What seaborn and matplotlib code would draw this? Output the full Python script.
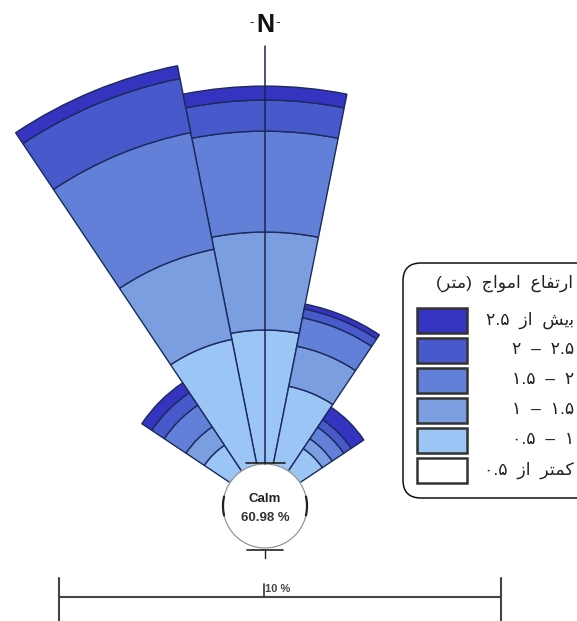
import numpy as np
import pandas as pd
import matplotlib
matplotlib.use("Agg")
import matplotlib.pyplot as plt
import seaborn as sns
from matplotlib.patches import FancyBboxPatch, Rectangle

# ---------------- data ----------------
directions = ["N", "NNE", "NE", "ENE", "E", "ESE", "SE", "SSE",
              "S", "SSW", "SW", "WSW", "W", "WNW", "NW", "NNW"]
calm_pct = 60.98
# frequency (%) of each wave-height class per direction
h_lt05  = [0.00, 0.00, 0.00, 0, 0, 0, 0, 0, 0, 0, 0, 0, 0, 0, 0.00, 0.00]
h_05_1  = [4.62, 2.76, 0.93, 0, 0, 0, 0, 0, 0, 0, 0, 0, 0, 0, 1.07, 4.41]
h_1_15  = [3.38, 1.41, 0.41, 0, 0, 0, 0, 0, 0, 0, 0, 0, 0, 0, 0.76, 3.17]
h_15_2  = [3.48, 1.00, 0.48, 0, 0, 0, 0, 0, 0, 0, 0, 0, 0, 0, 0.90, 4.10]
h_2_25  = [1.07, 0.31, 0.31, 0, 0, 0, 0, 0, 0, 0, 0, 0, 0, 0, 0.52, 1.90]
h_gt25  = [0.48, 0.17, 0.52, 0, 0, 0, 0, 0, 0, 0, 0, 0, 0, 0, 0.41, 0.45]

# legend labels (visual order, Persian)
lbl_gt25 = "۲.۵  " + "\uFEAF\uFE8D" + "  " + "\uFEB6\uFBFE\uFE91"
lbl_2_25 = "۲  –  ۲.۵"
lbl_15_2 = "۱.۵  –  ۲"
lbl_1_15 = "۱  –  ۱.۵"
lbl_05_1 = "۰.۵  –  ۱"
lbl_lt05 = "۰.۵  " + "\uFEAF\uFE8D" + "  " + "\uFEAE\uFE98\uFEE4\uFB90"
legend_title = ("(\uFEAE\uFE98\uFEE3)  " + "\uFE9D\uFE8D\uFEEE\uFEE3\uFE8D  " +
                "\uFEC9\uFE8E\uFED4\uFE97\uFEAD\uFE8D")
scale_label = "10 %"

bands = [h_lt05, h_05_1, h_1_15, h_15_2, h_2_25, h_gt25]
band_labels = [lbl_lt05, lbl_05_1, lbl_1_15, lbl_15_2, lbl_2_25, lbl_gt25]
colors = ["#ffffff", "#9ac5f4", "#7b9ee1", "#6380d8", "#4859cb", "#3434c0"]
edge = "#1c2a5c"

df = pd.DataFrame({"direction": directions})
for lab, vals in zip(band_labels, bands):
    df[lab] = vals

# ---------------- style ----------------
sns.set_theme(style="white")
plt.rcParams["font.family"] = ["Liberation Sans", "DejaVu Sans"]

W, H = 577, 621
fig = plt.figure(figsize=(W / 100, H / 100), dpi=100)
fig.patch.set_facecolor("white")

cx, cy = 265, 506          # rose centre in pixels
PX = 29.0                  # pixels per percent
r0 = 42 / PX               # calm circle radius (in % units)
R = 470                    # polar axes radius in px

ax = fig.add_axes([(cx - R) / W, (H - cy - R) / H, 2 * R / W, 2 * R / H],
                  projection="polar")
ax.set_theta_zero_location("N")
ax.set_theta_direction(-1)
ax.set_ylim(0, R / PX)
ax.set_axis_off()
ax.set_zorder(1)

theta = np.deg2rad(np.arange(len(directions)) * 22.5)
width = 2 * np.pi / len(directions)
bottom = np.full(len(directions), r0)
for lab, col in zip(band_labels, colors):
    v = df[lab].to_numpy(dtype=float)
    m = v > 0
    if m.any():
        ax.bar(theta[m], v[m], width=width, bottom=bottom[m], color=col,
               edgecolor=edge, linewidth=1.0, zorder=2, align="center")
    bottom = bottom + v

# calm circle
tt = np.linspace(0, 2 * np.pi, 361)
ax.fill(tt, np.full_like(tt, r0), color="white", zorder=3)
ax.plot(tt, np.full_like(tt, r0), color="#8a8a8a", lw=0.8, zorder=4)
for c in (90, 270):
    th = np.deg2rad(np.linspace(c - 13, c + 13, 30))
    ax.plot(th, np.full_like(th, r0), color="#222222", lw=1.6, zorder=5)
# north axis line
ax.plot([0, 0], [r0, (cy - 46) / PX], color="#1b2550", lw=1.1, zorder=5)

# ---------------- overlay (pixel coordinates) ----------------
axc = fig.add_axes([0, 0, 1, 1])
axc.set_xlim(0, W)
axc.set_ylim(H, 0)
axc.set_axis_off()
axc.patch.set_alpha(0)
axc.set_zorder(2)

# calm ticks
axc.plot([246, 285], [cy - r0 * PX - 1, cy - r0 * PX - 1], color="#222", lw=1.2)
axc.plot([247, 283], [cy + r0 * PX + 2, cy + r0 * PX + 2], color="#222", lw=1.2)
axc.plot([cx, cx], [cy + r0 * PX + 2, cy + r0 * PX + 10], color="#222", lw=1.0)
axc.text(cx, 499, "Calm", ha="center", va="center", fontsize=9.5,
         fontweight="bold", color="#222")
axc.text(cx, 518, f"{calm_pct:.2f} %", ha="center", va="center", fontsize=9.5,
         fontweight="bold", color="#333")

# N label
axc.text(cx, 25, "N", ha="center", va="center", fontsize=18,
         fontweight="bold", color="#111")
axc.text(cx - 13, 22, "-", ha="center", va="center", fontsize=10, color="#333")
axc.text(cx + 13, 22, "-", ha="center", va="center", fontsize=10, color="#333")

# scale bar
axc.plot([59, 501], [597, 597], color="#444", lw=1.5)
axc.plot([59, 59], [578, 621], color="#444", lw=1.5)
axc.plot([501, 501], [578, 621], color="#444", lw=1.5)
axc.plot([264, 264], [584, 597], color="#333", lw=1.2)
axc.text(265, 589, scale_label, ha="left", va="center", fontsize=8,
         fontweight="bold", color="#444")

# legend
box = FancyBboxPatch((403, 263), 220, 235,
                     boxstyle="round,pad=0,rounding_size=18",
                     facecolor="white", edgecolor="#111", lw=1.1)
axc.add_patch(box)
axc.text(573, 283, legend_title, ha="right", va="center", fontsize=12.5,
         color="#222")
row_y = [470, 440, 410, 380, 350, 320]   # lt05 ... gt25 centres
for lab, col, yc in zip(band_labels, colors, row_y):
    axc.add_patch(Rectangle((417, yc - 12.5), 50, 25, facecolor=col,
                            edgecolor="#333", lw=1.8))
    axc.text(574, yc, lab, ha="right", va="center", fontsize=12.5, color="#222")

fig.savefig("out.png", dpi=100)
